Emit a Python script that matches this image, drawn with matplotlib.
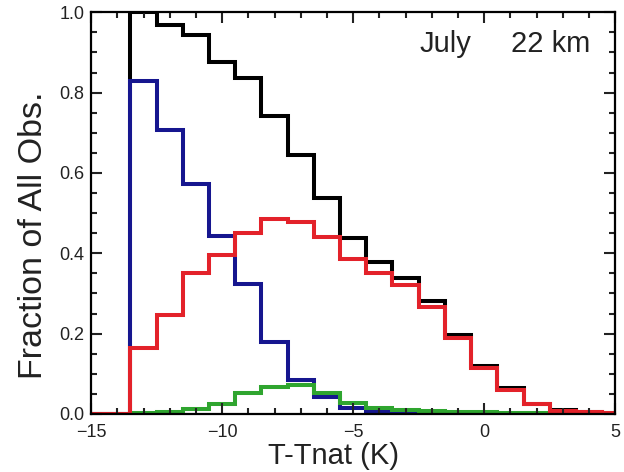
import numpy as np
import matplotlib
matplotlib.use("Agg")
import matplotlib.pyplot as plt
from matplotlib.ticker import MultipleLocator

plt.rcParams["font.family"] = ["Liberation Sans", "DejaVu Sans"]

# bin centres -13 .. 4 (1 K wide), plus a zero bin on the left and a half bin at the right edge
edges = np.concatenate([[-15.0], np.arange(-13.5, 5.0, 1.0), [5.0]])

frac_all = [0, 1.0, 0.969, 0.944, 0.875, 0.836, 0.742, 0.645, 0.537, 0.437,
            0.378, 0.338, 0.28, 0.197, 0.12, 0.064, 0.026, 0.01, 0.005, 0.003]
frac_blue = [0, 0.829, 0.706, 0.572, 0.443, 0.324, 0.178, 0.085, 0.042, 0.015,
             0.006, 0.004, 0.003, 0.002, 0.001, 0.001, 0.0, 0.0, 0.0, 0.0]
frac_red = [0, 0.165, 0.246, 0.35, 0.396, 0.45, 0.486, 0.477, 0.44, 0.386,
            0.35, 0.32, 0.267, 0.19, 0.115, 0.06, 0.024, 0.008, 0.004, 0.003]
frac_green = [0, 0.003, 0.005, 0.012, 0.025, 0.052, 0.066, 0.072, 0.053, 0.027,
              0.014, 0.009, 0.007, 0.005, 0.004, 0.003, 0.003, 0.002, 0.001, 0.001]

fig = plt.figure(figsize=(6.24, 4.72), dpi=100)
ax = fig.add_axes([0.146, 0.123, 0.840, 0.851])

lw = 2.9
ax.stairs(frac_all, edges, color="black", lw=lw, baseline=0)
ax.stairs(frac_blue, edges, color="#16168f", lw=lw, baseline=0)
ax.stairs(frac_green, edges, color="#2fa52f", lw=lw, baseline=0)
ax.stairs(frac_red, edges, color="#e3222a", lw=lw, baseline=0)

ax.set_xlim(-15, 5)
ax.set_ylim(0, 1.0)
ax.xaxis.set_major_locator(MultipleLocator(5))
ax.xaxis.set_minor_locator(MultipleLocator(1))
ax.yaxis.set_major_locator(MultipleLocator(0.2))
ax.yaxis.set_minor_locator(MultipleLocator(0.05))
ax.yaxis.set_major_formatter(plt.FormatStrFormatter("%.1f"))

ax.tick_params(which="both", direction="in", top=True, right=True,
               width=1.5, labelsize=13, colors="#222222")
ax.tick_params(axis="x", pad=7.5)
ax.tick_params(axis="y", pad=5)
ax.tick_params(which="major", length=8)
ax.tick_params(which="minor", length=4.5)
for s in ax.spines.values():
    s.set_linewidth(1.6)

ax.set_xlabel("T-Tnat (K)", fontsize=21, color="#222222")
ax.xaxis.set_label_coords(0.462, -0.07)
ax.set_ylabel("Fraction of All Obs.", fontsize=24.5, color="#222222")
ax.yaxis.set_label_coords(-0.08, 0.445)

ax.text(0.626, 0.9, "July", transform=ax.transAxes, fontsize=21, color="#222222")
ax.text(0.952, 0.9, "22 km", transform=ax.transAxes, fontsize=21,
        ha="right", color="#222222")

fig.savefig("out.png", dpi=100)
